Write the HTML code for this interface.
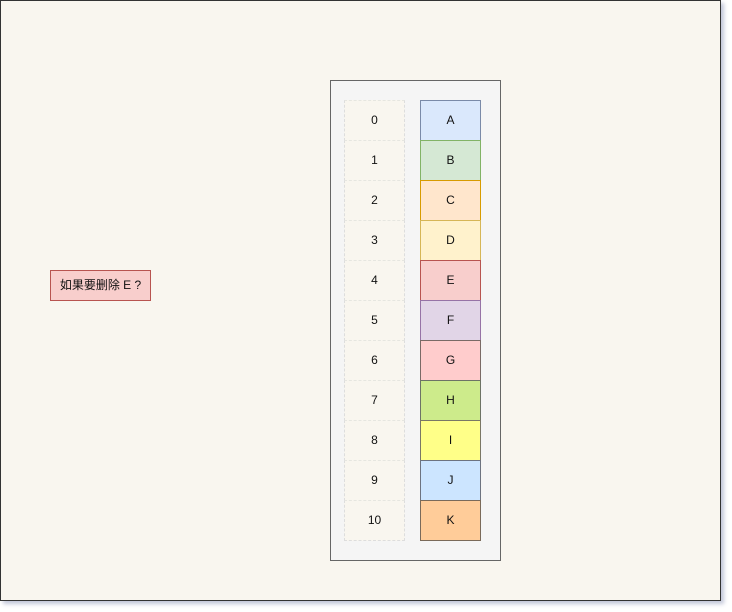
<!DOCTYPE html>
<html><head><meta charset="utf-8"><style>
body{margin:0;width:732px;height:612px;background:#fff;position:relative;overflow:hidden;font-family:"Liberation Sans","Noto Sans CJK SC",sans-serif;font-size:12px;color:#111}
.frame{position:absolute;left:0;top:0;width:719px;height:599px;border:1px solid #333;background:#f9f6ef;box-shadow:3px 3px 4px rgba(120,130,170,.45)}
.a{position:absolute;box-sizing:border-box;display:flex;align-items:center;justify-content:center;padding-bottom:2px}
.idx{border:1px dashed #ddd;border-top:1px dashed #e6e6e0;background:#f9f6ef}
</style></head><body>
<div class="frame"></div>
<div class="a" style="left:330px;top:80px;width:171px;height:481px;background:#f5f5f5;border:1px solid #666"></div>
<div class="a" style="left:50px;top:270px;width:101px;height:31px;background:#f8cecc;border:1px solid #b85450">如果要删除 E ?</div>
<div id="c"></div>
<script>
var cols=[["A","#dae8fc","#7a8aa8"],["B","#d5e8d4","#82b366"],["C","#ffe6cc","#d79b00"],["D","#fff2cc","#d6b656"],["E","#f8cecc","#b85450"],["F","#e1d5e7","#9673a6"],["G","#ffcccc","#7a6a66"],["H","#cdeb8b","#6d7366"],["I","#ffff88","#7a7766"],["J","#cce5ff","#6d7380"],["K","#ffcc99","#7a6a5a"]];
var h="";
cols.forEach(function(c,i){var y=100+i*40;
h+='<div class="a idx" style="left:344px;top:'+y+'px;width:61px;height:41px">'+i+'</div>';
h+='<div class="a" style="left:420px;top:'+y+'px;width:61px;height:41px;background:'+c[1]+';border:1px solid '+c[2]+'">'+c[0]+'</div>';});
document.getElementById("c").innerHTML=h;
</script>
</body></html>
